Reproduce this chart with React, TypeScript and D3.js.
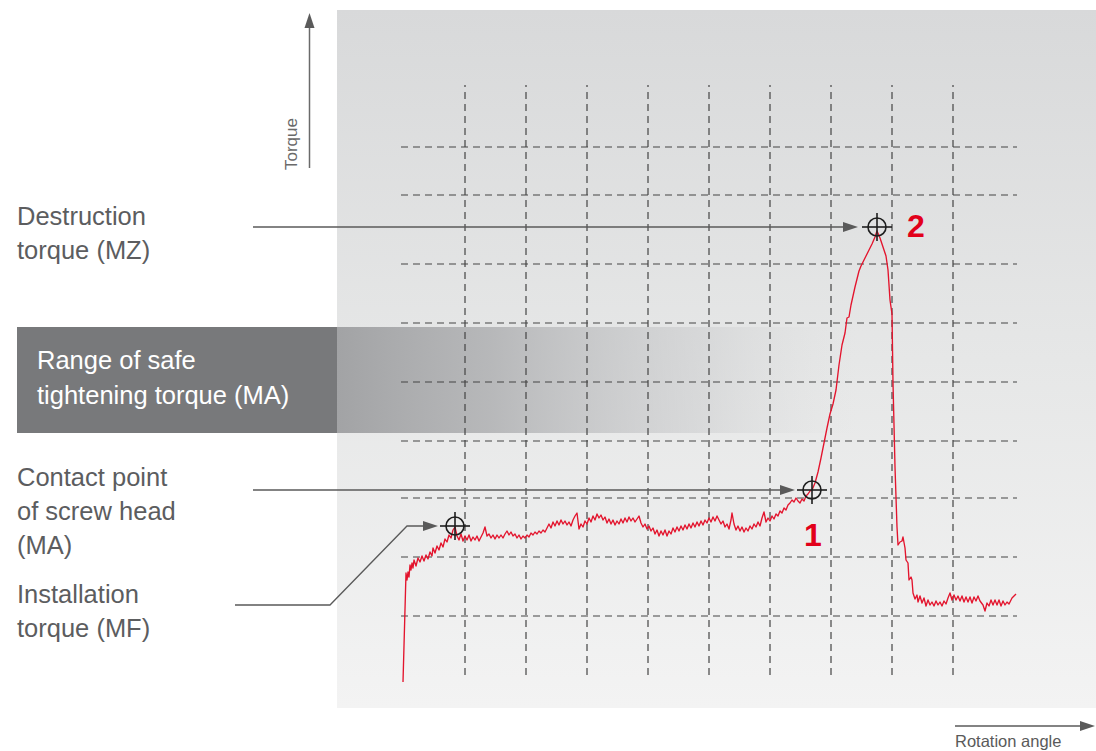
import React from "react";
import * as d3 from "d3";

// ---- data (angle / torque in chart units) ----
const installPhase: [number, number][] = [
  [-1, -7], [2, 102], [3, 95], [4, 103], [5, 98], [6, 110], [7, 105], [8, 112], [9, 107], [10, 115],
  [12, 109], [14, 117], [16, 113], [18, 119], [20, 114], [22, 120], [24, 116], [26, 123], [28, 119],
  [29, 127], [31, 122], [33, 129], [35, 125], [37, 132], [39, 128], [41, 136], [43, 133], [45, 140],
  [47, 137], [49, 145], [51, 148], [53, 139], [55, 135], [57, 141], [59, 134], [61, 139], [63, 135],
  [65, 140], [67, 134], [69, 138], [71, 135], [73, 139], [75, 134], [77, 138], [79, 142], [81, 148],
  [83, 139], [85, 141], [87, 137], [89, 140], [91, 136], [93, 140], [95, 137], [97, 140], [99, 137],
  [101, 141], [103, 144], [105, 140], [107, 143], [109, 139], [111, 141], [113, 137], [115, 140],
  [117, 136], [119, 139], [121, 137], [123, 140], [125, 138], [127, 142], [129, 140], [131, 143],
  [133, 141], [135, 144], [137, 142], [139, 145], [141, 143], [143, 147], [145, 151], [147, 147],
  [149, 153], [151, 149], [153, 154], [155, 150], [157, 155], [159, 151], [161, 154], [163, 150],
  [165, 153], [167, 149], [169, 155], [171, 159], [173, 162], [175, 146], [177, 151], [179, 148],
  [181, 154], [183, 151], [185, 157], [187, 153], [189, 159], [191, 155], [193, 161], [195, 157],
  [197, 160], [199, 155], [201, 158], [203, 152], [205, 156], [207, 151], [209, 155], [211, 150],
  [213, 154], [215, 151], [217, 156], [219, 152], [221, 157], [223, 153], [225, 158], [227, 154],
  [229, 157], [231, 153], [233, 156], [235, 159], [237, 152], [239, 148], [241, 151], [243, 146],
  [245, 149], [247, 144], [249, 147], [251, 141], [253, 145], [255, 139], [257, 144], [259, 140],
  [261, 145], [263, 139], [265, 144], [267, 141], [269, 147], [271, 143], [273, 148], [275, 144],
  [277, 149], [279, 145], [281, 150], [283, 146], [285, 151], [287, 147], [289, 152], [291, 148],
  [293, 153], [295, 149], [297, 154], [299, 150], [301, 155], [303, 152], [305, 157], [307, 153],
  [309, 158], [311, 154], [313, 159], [315, 155], [317, 151], [319, 154], [321, 148], [323, 151],
  [325, 146], [327, 155], [328, 162], [330, 151], [332, 145], [334, 149], [336, 144], [338, 148],
  [340, 143], [342, 147], [344, 144], [346, 149], [348, 146], [350, 151], [352, 148], [354, 153],
  [356, 149], [358, 157], [360, 163], [362, 153], [364, 157], [366, 154], [368, 159], [370, 156],
  [372, 161], [374, 159], [376, 164], [378, 162], [380, 167], [382, 165], [384, 170], [386, 172],
  [388, 175], [390, 173], [392, 177], [394, 174], [396, 172], [398, 176], [400, 174], [402, 179],
  [404, 181], [406, 184], [408, 185],
];
const tighteningPhase: [number, number][] = [
  [408, 185], [411, 192], [414, 203], [417, 217], [420, 232], [423, 247], [426, 261], [429, 271],
  [432, 285], [435, 310], [438, 330], [441, 342], [443, 357], [445, 358], [447, 370], [449, 379],
  [451, 388], [453, 396], [455, 404], [457, 409], [459, 413], [462, 419], [465, 425], [468, 431],
  [471, 438], [473, 444],
];
const breakPhase: [number, number][] = [
  [473, 444], [476, 437], [479, 428], [482, 419], [484, 405], [486, 375], [488, 361], [489, 292],
  [491, 208], [493, 148], [494, 130], [496, 133], [498, 134], [499, 138], [501, 127], [502, 115],
  [504, 112], [505, 95], [507, 98], [508, 95], [509, 82], [511, 76], [513, 80], [514, 73], [516, 79],
  [518, 72], [520, 77], [522, 69], [524, 75], [526, 70], [528, 73], [530, 69], [532, 74], [534, 70],
  [536, 73], [538, 69], [540, 74], [542, 71], [544, 77], [546, 82], [548, 75], [550, 80], [552, 75],
  [554, 79], [556, 74], [558, 79], [560, 73], [562, 78], [564, 73], [566, 78], [568, 72], [570, 78],
  [572, 74], [574, 79], [576, 74], [579, 70], [581, 64], [583, 72], [585, 69], [587, 75], [589, 70],
  [591, 75], [593, 70], [595, 75], [597, 69], [599, 74], [601, 70], [603, 73], [605, 71], [608, 77],
  [612, 81],
];

const angleGrid = [61, 122, 183, 244, 305, 366, 427, 488, 549];
const torqueGrid = [59, 118, 177, 234, 293, 352, 411, 480, 528];
const safeRange = [242, 348];

const markerAngle = [51, 408, 473];
const markerTorque = [149, 185, 448];
const markerNumber = ["", "1", "2"];

const labelInstall = ["Installation", "torque (MF)"];
const labelContact = ["Contact point", "of screw head", "(MA)"];
const labelDestruction = ["Destruction", "torque (MZ)"];
const labelSafe = ["Range of safe", "tightening torque (MA)"];
const axisY = "Torque";
const axisX = "Rotation angle";

const W = 1096;
const H = 751;
const FONT = "'Liberation Sans', Arial, sans-serif";
const LABEL_SIZE = 25.5;

export default function App() {
  const x = d3.scaleLinear().domain([0, 610]).range([404, 1014]);
  const y = d3.scaleLinear().domain([0, 590]).range([675, 85]);
  const line = d3
    .line<[number, number]>()
    .x((d) => x(d[0]))
    .y((d) => y(d[1]));
  const curve = [...installPhase, ...tighteningPhase.slice(1), ...breakPhase.slice(1)];

  const gridColor = "#444";
  const leaderColor = "#5a5a5a";
  const textColor = "#5c5d5f";

  const bandTop = y(safeRange[1]);
  const bandBottom = y(safeRange[0]);

  const arrowHead = (tx: number, ty: number, dir: "right" | "up") =>
    dir === "right"
      ? `M${tx},${ty} L${tx - 15},${ty - 5} L${tx - 15},${ty + 5} Z`
      : `M${tx},${ty} L${tx - 5},${ty + 15} L${tx + 5},${ty + 15} Z`;

  const mk = markerAngle.map((a, i) => ({ cx: x(a), cy: y(markerTorque[i]), n: markerNumber[i] }));

  return (
    <svg
      width={W}
      height={H}
      style={{ position: "absolute", left: 0, top: 0, display: "block", background: "#fff" }}
    >
      <defs>
        <linearGradient id="panelGrad" x1="0" y1="0" x2="0" y2="1">
          <stop offset="0" stopColor="#d8d9da" />
          <stop offset="0.5" stopColor="#e6e7e7" />
          <stop offset="1" stopColor="#f3f3f3" />
        </linearGradient>
        <linearGradient id="bandGrad" x1="0" y1="0" x2="1" y2="0">
          <stop offset="0" stopColor="#a2a3a5" stopOpacity="1" />
          <stop offset="0.3" stopColor="#afb0b2" stopOpacity="0.85" />
          <stop offset="0.7" stopColor="#c5c6c8" stopOpacity="0.45" />
          <stop offset="1" stopColor="#dcdddd" stopOpacity="0" />
        </linearGradient>
      </defs>

      {/* panel */}
      <rect x={337} y={10} width={W - 337} height={698} fill="url(#panelGrad)" />

      {/* safe range band */}
      <rect x={17} y={bandTop} width={320} height={bandBottom - bandTop} fill="#78797b" />
      <rect x={337} y={bandTop} width={520} height={bandBottom - bandTop} fill="url(#bandGrad)" />
      {labelSafe.map((t, i) => (
        <text key={t} x={37} y={369 + i * 35} fill="#ffffff" fontSize={LABEL_SIZE} fontFamily={FONT}>
          {t}
        </text>
      ))}

      {/* grid */}
      {angleGrid.map((a) => (
        <line
          key={"v" + a}
          x1={x(a)}
          x2={x(a)}
          y1={y(0)}
          y2={y(590)}
          stroke={gridColor}
          strokeWidth={1.2}
          strokeDasharray="7 5"
        />
      ))}
      {torqueGrid.map((t) => (
        <line
          key={"h" + t}
          x1={x(-3)}
          x2={x(613)}
          y1={y(t)}
          y2={y(t)}
          stroke={gridColor}
          strokeWidth={1.2}
          strokeDasharray="7 5"
        />
      ))}

      {/* axes arrows */}
      <line x1={309.5} x2={309.5} y1={168} y2={27} stroke="#6a6a6a" strokeWidth={1.5} />
      <path d={arrowHead(309.5, 13, "up")} fill="#5a5a5a" />
      <text
        transform="translate(297,170) rotate(-90)"
        fill="#6a6a6a"
        fontSize={17}
        fontFamily={FONT}
      >
        {axisY}
      </text>
      <line x1={955} x2={1081} y1={726} y2={726} stroke="#5a5a5a" strokeWidth={1.5} />
      <path d={arrowHead(1095, 726, "right")} fill="#5a5a5a" />
      <text x={955} y={747} fill="#5a5a5a" fontSize={16.5} fontFamily={FONT}>
        {axisX}
      </text>

      {/* curve */}
      <path d={line(curve) || ""} fill="none" stroke="#e3142d" strokeWidth={1.35} strokeLinejoin="round" />

      {/* leaders */}
      <line x1={253} x2={mk[2].cx - 32} y1={mk[2].cy} y2={mk[2].cy} stroke={leaderColor} strokeWidth={1.3} />
      <path d={arrowHead(mk[2].cx - 19, mk[2].cy, "right")} fill={leaderColor} />
      <line x1={253} x2={mk[1].cx - 30} y1={mk[1].cy} y2={mk[1].cy} stroke={leaderColor} strokeWidth={1.3} />
      <path d={arrowHead(mk[1].cx - 17, mk[1].cy, "right")} fill={leaderColor} />
      <polyline
        points={`235,605 330,605 407,${mk[0].cy} ${mk[0].cx - 30},${mk[0].cy}`}
        fill="none"
        stroke={leaderColor}
        strokeWidth={1.3}
      />
      <path d={arrowHead(mk[0].cx - 17, mk[0].cy, "right")} fill={leaderColor} />

      {/* markers */}
      {mk.map((m, i) => (
        <g key={"m" + i} stroke="#1e1e1e" strokeWidth={1.6} fill="none">
          <circle cx={m.cx} cy={m.cy} r={9} />
          <line x1={m.cx - 15} x2={m.cx + 15} y1={m.cy} y2={m.cy} />
          <line x1={m.cx} x2={m.cx} y1={m.cy - 14} y2={m.cy + 14} />
        </g>
      ))}
      <text x={mk[1].cx - 8} y={546} fill="#e2001a" fontSize={32} fontWeight="bold" fontFamily={FONT}>
        {mk[1].n}
      </text>
      <text x={mk[2].cx + 30} y={237} fill="#e2001a" fontSize={32} fontWeight="bold" fontFamily={FONT}>
        {mk[2].n}
      </text>

      {/* left labels */}
      {labelDestruction.map((t, i) => (
        <text key={t} x={17} y={225 + i * 34} fill={textColor} fontSize={LABEL_SIZE} fontFamily={FONT}>
          {t}
        </text>
      ))}
      {labelContact.map((t, i) => (
        <text key={t} x={17} y={486 + i * 34} fill={textColor} fontSize={LABEL_SIZE} fontFamily={FONT}>
          {t}
        </text>
      ))}
      {labelInstall.map((t, i) => (
        <text key={t} x={17} y={603 + i * 34} fill={textColor} fontSize={LABEL_SIZE} fontFamily={FONT}>
          {t}
        </text>
      ))}
    </svg>
  );
}
